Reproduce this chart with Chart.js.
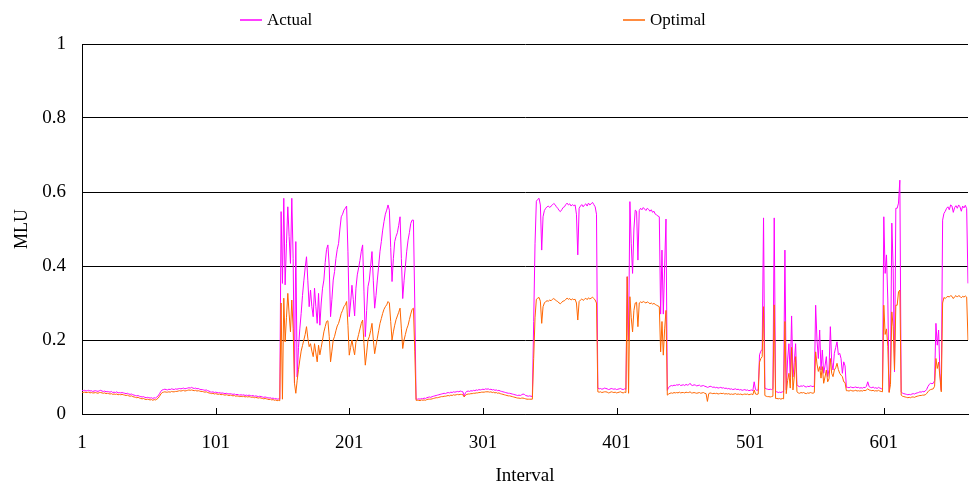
<!DOCTYPE html>
<html>
<head>
<meta charset="utf-8">
<script src="https://cdn.jsdelivr.net/npm/chart.js@4.4.1/dist/chart.umd.min.js"></script>
<style>
  html, body { margin: 0; padding: 0; background: #fff; }
  #wrap { width: 970px; height: 486px; }
</style>
</head>
<body>
<div id="wrap"><canvas id="mlu-chart" width="970" height="486"></canvas></div>
<script>
// MLU per interval, actual vs optimal
const actual = [
  // 1-149
  .064,.063,.064,.062,.063,.064,.062,.063,.061,.062,
  .063,.062,.061,.063,.064,.062,.061,.062,.060,.061,
  .060,.059,.061,.058,.059,.058,.060,.057,.058,.057,
  .058,.057,.056,.055,.056,.054,.053,.054,.052,.051,
  .050,.049,.050,.048,.047,.046,.047,.045,.044,.045,
  .044,.043,.044,.042,.044,.043,.046,.049,.055,.061,
  .065,.066,.067,.066,.065,.067,.066,.068,.067,.066,
  .068,.067,.068,.069,.068,.069,.070,.068,.069,.070,
  .071,.070,.072,.070,.069,.070,.068,.069,.067,.066,
  .066,.065,.064,.065,.063,.062,.060,.059,.060,.058,
  .059,.058,.057,.058,.056,.057,.056,.055,.056,.055,
  .054,.055,.054,.053,.054,.052,.053,.052,.051,.052,
  .051,.052,.050,.051,.050,.051,.050,.049,.050,.048,
  .049,.048,.047,.048,.047,.046,.045,.046,.045,.044,
  .043,.044,.042,.043,.041,.042,.040,.041,.040,
  // 150-251
  .547,.353,.583,.349,.460,.560,.480,.407,.583,.420,
  .083,.466,.100,.180,.230,.272,.320,.360,.395,.425,
  .360,.290,.335,.290,.263,.340,.290,.245,.326,.240,
  .300,.340,.362,.410,.445,.457,.400,.263,.310,.362,
  .385,.420,.445,.461,.500,.533,.540,.551,.556,.562,
  .440,.263,.300,.348,.310,.265,.340,.376,.395,.415,
  .440,.457,.330,.209,.280,.344,.362,.400,.439,.360,
  .286,.320,.362,.400,.440,.466,.497,.520,.540,.551,
  .565,.551,.450,.358,.420,.466,.480,.490,.510,.533,
  .420,.312,.360,.400,.440,.470,.490,.515,.524,.524,
  .300,.040,
  // 252-338
  .040,.041,.040,.042,.041,.043,.042,.044,.045,
  .046,.045,.047,.048,.049,.050,.051,.052,.053,.054,
  .055,.056,.055,.057,.058,.057,.059,.058,.060,.059,
  .060,.061,.060,.062,.061,.060,.048,.058,.061,.062,
  .061,.063,.062,.064,.063,.065,.064,.066,.065,.066,
  .067,.066,.068,.067,.068,.066,.067,.065,.066,.064,
  .065,.063,.064,.062,.061,.060,.059,.058,.057,.056,
  .056,.055,.054,.053,.052,.051,.050,.051,.050,.052,
  .054,.053,.050,.049,.048,.049,.048,.047,
  // 339-386
  .250,.460,.575,.580,.583,.565,.443,.533,.550,.556,
  .560,.562,.558,.562,.565,.569,.566,.560,.556,.550,
  .547,.552,.558,.560,.566,.570,.565,.568,.562,.566,
  .563,.565,.540,.430,.556,.562,.566,.560,.565,.568,
  .562,.570,.565,.568,.572,.566,.560,.540,
  // 387-408
  .070,.068,.069,.067,.068,.070,.069,.068,.066,.067,
  .069,.068,.067,.068,.066,.067,.068,.069,.067,.066,
  .068,.067,
  // 409-439
  .371,.200,.574,.460,.380,.500,.551,.548,.416,.550,
  .556,.552,.558,.554,.550,.556,.553,.548,.552,.545,
  .548,.540,.538,.535,.533,.270,.443,.270,.400,.527,
  .064,
  // 440-507
  .072,.075,.077,.076,.078,.077,.079,.078,.080,.077,
  .078,.079,.077,.080,.078,.079,.083,.078,.077,.079,
  .078,.076,.077,.078,.075,.076,.077,.075,.074,.072,
  .073,.075,.074,.072,.073,.071,.072,.070,.071,.072,
  .070,.071,.069,.070,.068,.069,.067,.068,.066,.067,
  .068,.066,.067,.065,.066,.064,.065,.066,.064,.065,
  .063,.064,.065,.063,.087,.066,.064,.065,
  // 508-549
  .160,.170,.175,.530,.070,.068,.067,.066,.067,.066,
  .068,.530,.060,.060,.058,.059,.058,.060,.059,.443,
  .065,.146,.190,.100,.265,.100,.140,.190,.080,.075,
  .074,.076,.075,.077,.074,.073,.075,.074,.076,.075,
  .074,.076,
  // 550-573
  .294,.200,.150,.227,.119,.173,.110,.130,.155,.101,
  .120,.236,.140,.119,.164,.180,.195,.160,.164,.150,
  .110,.141,.130,.072,
  // 574-600
  .072,.071,.073,.072,.071,.072,.073,.071,.072,.070,
  .071,.070,.072,.071,.075,.087,.074,.072,.071,.073,
  .070,.071,.069,.072,.070,.069,.066,
  // 601-614
  .533,.380,.430,.308,.060,.110,.516,.394,.114,.556,
  .556,.570,.632,.060,
  // 615-638
  .056,.055,.054,.053,.052,.053,.052,.054,.055,.054,
  .056,.057,.058,.060,.059,.061,.060,.062,.066,.074,
  .080,.083,.082,.083,
  // 639-664
  .090,.245,.186,.227,.110,.064,.524,.542,.548,.556,
  .560,.552,.565,.562,.545,.558,.563,.556,.565,.560,
  .548,.562,.557,.564,.555,.353
];

const optimal = [
  // 1-149
  .059,.058,.059,.058,.058,.059,.057,.058,.057,.057,
  .058,.057,.056,.058,.058,.057,.056,.057,.055,.056,
  .055,.054,.055,.053,.054,.053,.054,.052,.053,.052,
  .053,.052,.051,.050,.051,.049,.048,.049,.047,.046,
  .045,.044,.045,.043,.042,.041,.042,.040,.039,.040,
  .039,.038,.039,.037,.039,.038,.040,.043,.048,.054,
  .058,.059,.060,.059,.059,.060,.059,.061,.060,.060,
  .061,.061,.062,.063,.062,.063,.064,.062,.063,.064,
  .065,.064,.065,.064,.063,.064,.062,.063,.062,.061,
  .061,.060,.059,.060,.058,.057,.056,.055,.056,.054,
  .055,.054,.053,.054,.052,.053,.052,.051,.052,.051,
  .050,.051,.050,.049,.050,.048,.049,.048,.047,.048,
  .047,.048,.046,.047,.046,.047,.046,.045,.046,.044,
  .045,.044,.043,.044,.043,.042,.041,.042,.041,.040,
  .039,.040,.038,.039,.037,.038,.036,.037,.036,
  // 150-251
  .300,.040,.313,.195,.260,.326,.270,.222,.308,.230,
  .083,.056,.090,.120,.146,.170,.185,.200,.215,.236,
  .205,.182,.190,.170,.155,.190,.165,.141,.186,.160,
  .180,.200,.222,.236,.250,.252,.210,.141,.170,.200,
  .210,.225,.238,.245,.258,.272,.280,.290,.295,.304,
  .240,.159,.180,.200,.178,.160,.195,.200,.215,.230,
  .245,.254,.190,.132,.165,.200,.209,.225,.245,.200,
  .163,.185,.205,.225,.245,.258,.272,.283,.290,.295,
  .304,.300,.250,.200,.222,.240,.255,.265,.275,.286,
  .230,.177,.200,.215,.230,.240,.255,.270,.283,.286,
  .170,.037,
  // 252-338
  .037,.037,.036,.038,.037,.038,.037,.039,.040,
  .040,.040,.041,.042,.043,.044,.044,.045,.046,.047,
  .047,.048,.048,.049,.050,.049,.051,.050,.052,.051,
  .052,.053,.052,.053,.053,.052,.046,.051,.053,.054,
  .054,.055,.055,.056,.056,.057,.057,.058,.058,.059,
  .059,.059,.060,.060,.060,.059,.060,.058,.059,.057,
  .058,.056,.057,.055,.054,.053,.052,.051,.050,.049,
  .049,.048,.047,.046,.045,.044,.043,.043,.042,.043,
  .043,.042,.041,.040,.040,.040,.040,.040,
  // 339-386
  .150,.260,.310,.313,.315,.305,.245,.290,.300,.304,
  .306,.305,.308,.306,.310,.312,.309,.306,.304,.300,
  .298,.302,.305,.306,.310,.313,.310,.312,.308,.311,
  .309,.310,.300,.254,.304,.308,.311,.307,.310,.313,
  .309,.314,.311,.313,.316,.312,.308,.300,
  // 387-408
  .060,.059,.060,.058,.059,.060,.060,.059,.057,.058,
  .060,.059,.058,.059,.057,.058,.059,.060,.058,.057,
  .059,.058,
  // 409-439
  .371,.056,.317,.260,.222,.280,.300,.302,.236,.300,
  .303,.301,.304,.302,.300,.303,.301,.298,.300,.297,
  .299,.296,.294,.292,.290,.168,.250,.159,.230,.280,
  .051,
  // 440-507
  .054,.056,.057,.056,.058,.057,.058,.057,.059,.057,
  .058,.058,.057,.059,.058,.058,.060,.057,.057,.058,
  .057,.056,.057,.058,.056,.057,.058,.056,.055,.034,
  .055,.057,.056,.055,.056,.055,.056,.054,.055,.056,
  .055,.056,.054,.055,.054,.055,.053,.054,.053,.054,
  .055,.053,.054,.053,.054,.052,.053,.054,.053,.054,
  .052,.053,.054,.052,.065,.054,.053,.054,
  // 508-549
  .140,.150,.155,.290,.050,.048,.047,.047,.046,.047,
  .048,.295,.042,.042,.041,.042,.040,.042,.041,.250,
  .055,.090,.110,.070,.180,.065,.100,.155,.060,.057,
  .056,.058,.057,.058,.056,.055,.057,.056,.058,.057,
  .056,.058,
  // 550-573
  .168,.135,.115,.128,.097,.128,.083,.100,.119,.087,
  .095,.150,.110,.101,.119,.125,.137,.120,.110,.105,
  .101,.087,.085,.063,
  // 574-600
  .063,.062,.064,.063,.062,.063,.064,.062,.063,.062,
  .063,.062,.064,.063,.065,.068,.065,.064,.063,.064,
  .062,.063,.062,.064,.062,.061,.060,
  // 601-614
  .294,.215,.230,.182,.058,.080,.276,.236,.119,.294,
  .294,.330,.335,.051,
  // 615-638
  .048,.047,.046,.045,.044,.045,.044,.046,.046,.045,
  .047,.048,.049,.050,.050,.051,.051,.052,.055,.060,
  .064,.066,.067,.068,
  // 639-664
  .075,.150,.123,.140,.100,.060,.300,.315,.312,.316,
  .318,.316,.320,.318,.312,.317,.320,.316,.320,.318,
  .314,.318,.316,.319,.316,.200
];

const intervals = actual.map((_, i) => String(i + 1));
const xTickLabels = ['1', '101', '201', '301', '401', '501', '601'];
const yTicks = [0, 0.2, 0.4, 0.6, 0.8, 1];

const serif = '"Liberation Serif", "Times New Roman", serif';

// small tick marks pointing up from the category axis
const innerTicks = {
  id: 'innerTicks',
  afterDatasetsDraw(chart) {
    const { ctx, chartArea } = chart;
    const x = chart.scales.x;
    ctx.save();
    ctx.strokeStyle = '#000';
    ctx.lineWidth = 1;
    ctx.beginPath();
    intervals.forEach((lab, i) => {
      if (i === 0 || !xTickLabels.includes(lab)) return;
      const px = Math.round(x.getPixelForValue(i)) + 0.5;
      ctx.moveTo(px, chartArea.bottom);
      ctx.lineTo(px, chartArea.bottom - 6);
    });
    ctx.stroke();
    ctx.restore();
  }
};

// legend row across the top
const topLegend = {
  id: 'topLegend',
  afterDraw(chart, args, opts) {
    const ctx = chart.ctx;
    ctx.save();
    ctx.font = opts.font;
    ctx.textBaseline = 'middle';
    ctx.textAlign = 'left';
    chart.data.datasets.forEach((ds, i) => {
      const x0 = opts.starts[i];
      ctx.strokeStyle = ds.borderColor;
      ctx.lineWidth = 1.5;
      ctx.beginPath();
      ctx.moveTo(x0, opts.y);
      ctx.lineTo(x0 + 22, opts.y);
      ctx.stroke();
      ctx.fillStyle = '#000';
      ctx.fillText(ds.label, x0 + 27, opts.y + 1);
    });
    ctx.restore();
  }
};

const ctx = document.getElementById('mlu-chart').getContext('2d');
new Chart(ctx, {
  type: 'line',
  data: {
    labels: intervals,
    datasets: [
      {
        label: 'Actual',
        data: actual,
        borderColor: '#FF00FF',
        borderWidth: 1,
        pointRadius: 0,
        tension: 0,
        order: 1
      },
      {
        label: 'Optimal',
        data: optimal,
        borderColor: '#FF6600',
        borderWidth: 1,
        pointRadius: 0,
        tension: 0,
        order: 0
      }
    ]
  },
  options: {
    responsive: false,
    animation: false,
    layout: { padding: { top: 44, right: 0, left: 0, bottom: 0 } },
    plugins: {
      legend: { display: false },
      tooltip: { enabled: false },
      topLegend: { starts: [240, 623], y: 20, font: '17px ' + serif }
    },
    scales: {
      x: {
        type: 'category',
        offset: false,
        // tick marks are not drawn here, the length only spaces the labels
        grid: { display: false, drawTicks: true, tickLength: 16 },
        border: { display: true, color: '#000', width: 1 },
        ticks: {
          autoSkip: false,
          maxRotation: 0,
          minRotation: 0,
          padding: 2,
          color: '#000',
          font: { family: serif, size: 19 },
          callback: function (value) {
            const lab = this.getLabelForValue(value);
            return xTickLabels.includes(lab) ? lab : '';
          }
        },
        title: {
          display: true,
          text: 'Interval',
          color: '#000',
          font: { family: serif, size: 19, lineHeight: 1.1 },
          padding: { top: 0, bottom: 0 }
        },
        afterFit: (scale) => { scale.height = 72; }
      },
      y: {
        min: 0,
        max: 1,
        afterBuildTicks: (scale) => { scale.ticks = yTicks.map(v => ({ value: v })); },
        grid: { color: '#000', lineWidth: 1, drawTicks: false },
        border: { display: true, color: '#000', width: 1 },
        ticks: {
          padding: 16,
          color: '#000',
          font: { family: serif, size: 19 },
          callback: (v) => String(v)
        },
        title: {
          display: true,
          text: 'MLU',
          color: '#000',
          font: { family: serif, size: 18, lineHeight: 1.2 },
          padding: { top: 11, bottom: 0 }
        },
        afterFit: (scale) => { scale.width = 82; }
      }
    }
  },
  plugins: [innerTicks, topLegend]
});
</script>
</body>
</html>
